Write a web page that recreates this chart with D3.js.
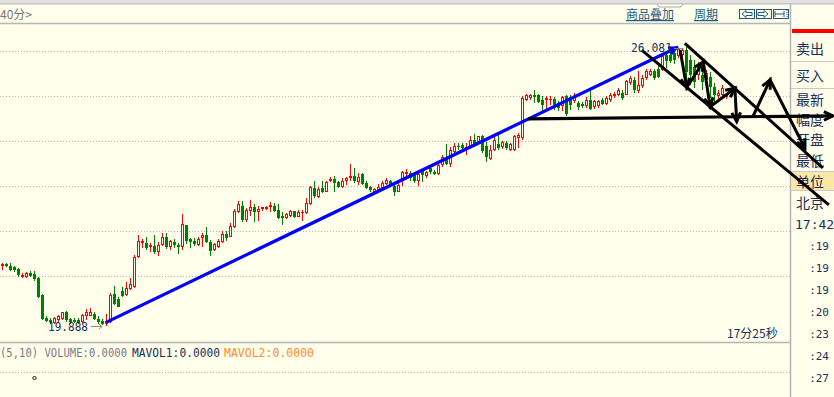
<!DOCTYPE html>
<html><head><meta charset="utf-8">
<script src="https://cdn.jsdelivr.net/npm/d3@7"></script>
<style>
body{margin:0;background:#ffffec;overflow:hidden}
svg{display:block}
text{font-family:"DejaVu Sans Mono",monospace}
.cn{font-family:"Noto Sans CJK SC",sans-serif}
</style></head><body>
<svg width="834" height="397"></svg>
<script>
var svg = d3.select("svg")

// 40 minute bars
var opens = [21.23,21.27,21.23,21.19,21.16,20.98,20.98,21.06,21.04,20.96,
 20.58,20.06,20.03,19.96,20.02,20.04,20.19,20.04,20.03,20.02,
 19.98,20.10,20.12,20.15,20.04,20.01,19.93,19.98,20.59,20.50,
 20.67,20.58,20.71,20.76,21.43,21.74,21.73,21.65,21.67,21.53,
 21.70,21.86,21.65,21.76,21.70,21.65,22.13,21.82,21.78,21.69,
 21.84,21.91,21.75,21.58,21.65,21.76,21.93,21.87,22.08,22.43,
 22.56,22.24,22.45,22.53,22.43,22.48,22.49,22.54,22.56,22.47,
 22.34,22.28,22.34,22.44,22.32,22.42,22.39,22.59,22.95,22.76,
 22.96,22.87,23.10,23.16,23.08,22.98,23.12,23.17,23.22,23.08,
 23.27,23.06,22.98,22.87,22.91,22.95,23.04,23.11,23.01,22.87,
 23.11,23.26,23.28,23.24,23.10,23.36,23.23,23.39,23.32,23.26,
 23.47,23.63,23.50,23.75,23.90,23.91,23.82,23.87,24.02,23.98,
 24.11,23.89,23.61,23.81,23.93,23.86,23.96,23.81,23.81,24.07,
 24.07,24.92,24.96,25.03,25.03,24.92,24.92,24.92,24.94,24.84,
 24.77,24.99,24.97,24.88,24.84,24.82,24.77,24.92,24.75,24.77,
 24.92,24.82,24.92,24.99,25.02,25.07,25.03,25.29,25.36,25.10,
 25.22,25.40,25.46,25.55,25.59,25.58,25.92,25.91,25.96,25.88,
 25.91,26.02,25.80,25.65,25.47,25.47,25.36,25.43,25.21,25.00,
 25.02,24.98]
var highs = [21.29,21.29,21.28,21.22,21.18,21.06,21.09,21.11,21.12,20.98,
 20.60,20.10,20.06,20.09,20.13,20.21,20.22,20.07,20.07,20.06,
 20.16,20.27,20.28,20.19,20.10,20.04,20.15,20.62,20.78,20.54,
 20.76,20.86,20.95,21.47,21.91,21.82,21.87,21.73,21.91,21.76,
 21.95,21.95,21.80,21.82,21.73,22.38,22.13,21.84,21.84,21.87,
 21.96,22.08,21.80,21.73,21.82,22.00,22.00,22.17,22.48,22.67,
 22.67,22.50,22.70,22.60,22.55,22.54,22.56,22.64,22.62,22.59,
 22.42,22.41,22.47,22.45,22.47,22.47,22.74,23.01,23.10,22.98,
 23.10,23.12,23.21,23.22,23.12,23.17,23.21,23.50,23.41,23.28,
 23.28,23.10,23.01,22.96,23.04,23.10,23.18,23.13,23.04,23.13,
 23.33,23.38,23.33,23.30,23.33,23.38,23.33,23.43,23.35,23.50,
 23.69,23.93,23.87,23.95,23.95,23.96,23.95,24.10,24.16,24.12,
 24.13,23.98,23.92,24.10,24.20,24.01,23.99,23.96,24.14,24.18,
 24.99,25.04,25.04,25.14,25.04,24.99,24.99,24.99,24.97,24.88,
 24.99,25.03,25.02,25.07,24.88,24.87,24.97,25.10,24.92,24.92,
 24.96,24.99,25.07,25.09,25.18,25.13,25.36,25.44,25.42,25.55,
 25.46,25.59,25.59,25.59,25.66,25.92,25.99,26.01,25.99,26.06,
 26.05,26.081,25.91,25.80,25.76,25.58,25.58,25.54,25.29,25.13,
 25.24,25.07]
var lows = [21.13,21.20,21.11,21.09,20.98,20.96,20.96,20.97,20.89,20.51,
 20.02,19.97,19.94,19.93,19.98,20.02,19.98,19.94,19.96,19.93,
 19.96,20.02,20.10,20.02,19.93,19.91,19.888,19.96,20.36,20.30,
 20.54,20.56,20.69,20.74,21.41,21.63,21.58,21.54,21.49,21.45,
 21.67,21.60,21.58,21.63,21.50,21.58,21.71,21.62,21.67,21.67,
 21.64,21.73,21.44,21.56,21.63,21.74,21.78,21.86,22.06,22.39,
 22.21,22.21,22.33,22.19,22.22,22.45,22.46,22.43,22.43,22.27,
 22.13,22.27,22.32,22.28,22.30,22.22,22.38,22.58,22.73,22.74,
 22.84,22.86,23.08,22.87,22.96,22.96,23.02,23.10,23.06,23.02,
 23.02,22.93,22.87,22.86,22.89,22.93,23.02,22.98,22.78,22.86,
 23.01,23.23,23.10,23.06,23.01,23.08,23.18,23.26,23.24,23.24,
 23.43,23.47,23.43,23.73,23.80,23.75,23.69,23.84,23.87,23.95,
 23.73,23.53,23.58,23.77,23.81,23.83,23.81,23.78,23.78,23.84,
 24.03,24.90,24.92,24.84,24.84,24.66,24.70,24.81,24.70,24.66,
 24.67,24.55,24.70,24.84,24.70,24.73,24.73,24.70,24.72,24.73,
 24.81,24.81,24.87,24.96,24.99,24.91,25.02,25.25,25.07,25.07,
 25.18,25.36,25.44,25.36,25.39,25.55,25.62,25.73,25.71,25.84,
 25.87,25.36,25.24,25.18,25.36,25.13,25.24,24.96,24.87,24.91,
 24.96,24.93]
var closes = [21.27,21.22,21.14,21.14,21.03,21.02,21.06,21.00,20.93,20.53,
 20.04,20.00,19.97,20.07,20.10,20.19,20.02,19.98,19.98,19.95,
 20.13,20.19,20.19,20.04,19.97,19.93,20.01,20.58,20.38,20.32,
 20.56,20.74,20.82,21.43,21.78,21.78,21.62,21.69,21.54,21.70,
 21.87,21.65,21.78,21.69,21.65,22.16,21.78,21.76,21.71,21.82,
 21.91,21.76,21.56,21.71,21.78,21.93,21.84,22.11,22.44,22.60,
 22.24,22.47,22.53,22.43,22.49,22.53,22.54,22.58,22.45,22.28,
 22.28,22.38,22.45,22.32,22.43,22.43,22.62,22.98,22.78,22.93,
 22.87,23.09,23.16,23.06,22.98,23.11,23.18,23.22,23.10,23.19,
 23.04,22.96,22.91,22.93,22.98,23.07,23.13,23.01,22.87,23.02,
 23.30,23.32,23.17,23.10,23.26,23.24,23.30,23.32,23.27,23.47,
 23.65,23.50,23.80,23.90,23.87,23.85,23.87,24.02,23.91,24.10,
 23.78,23.64,23.81,24.03,23.84,23.98,23.84,23.93,24.10,24.14,
 24.96,25.02,25.03,24.98,24.87,24.81,24.96,24.94,24.81,24.73,
 24.97,24.60,24.81,24.97,24.75,24.77,24.92,24.72,24.88,24.90,
 24.82,24.96,25.03,25.04,25.14,24.96,25.34,25.40,25.14,25.25,
 25.40,25.55,25.55,25.40,25.42,25.88,25.77,25.78,25.81,26.04,
 26.02,25.53,25.47,25.32,25.64,25.31,25.51,25.21,25.02,25.07,
 25.18,25.02]

var gridPrices = [26,25,24,23,22,21]
var maxLabel = "26.081", minLabel = "19.888"

// hand drawn lines, as [bar index, price]
var blueTrend = [[25.9,19.97],[168.9,26.09]]
var flatLine = [[131.4,24.49],[207.6,24.56]]
var channelA = [[159.8,26.02],[206.6,22.58]]
var channelB = [[170.6,26.17],[205.1,23.40]]
var zigzag1 = [[169.4,26.02],[171.05,25.19],[175.2,25.76],[176.9,24.76],[183.1,25.17],[183.55,24.43]]
var zigzag2 = [[187.6,24.54],[191.9,25.36],[200.6,23.84]]

var sideLabels = ["卖出","买入","最新","幅度","开盘","最低","单位","北京"]
var sideBase = [54,81,105,125,145,166,187,208]
var tickTimes = [":19",":19",":19",":20",":23",":24",":27"]
var volParts = ["(5,10) VOLUME:0.0000","MAVOL1:0.0000","MAVOL2:0.0000"]

var x = d3.scaleLinear().domain([0,181]).range([2.5,726.5])
var y = d3.scaleLinear().domain([20,26]).range([321,51])

// top strip + header
svg.append("rect").attr("width",834).attr("height",3).attr("fill","#e2e2e2")
svg.append("rect").attr("y",3).attr("width",834).attr("height",1.5).attr("fill","#c6c6c6")
svg.append("path").attr("d","M657,4 L659,7 L681,7 L683,4").attr("fill","none").attr("stroke","#aaa")
svg.append("line").attr("x1",0).attr("x2",790).attr("y1",23.5).attr("y2",23.5).attr("stroke","#b5b5b5").attr("stroke-width",1.5)
svg.append("text").attr("class","cn").attr("x",0).attr("y",19).attr("font-size",12).attr("fill","#777").text("40分>")

svg.append("text").attr("class","cn").attr("x",626).attr("y",19).attr("font-size",12).attr("fill","#1e5a82")
  .attr("text-decoration","underline").text("商品叠加")
svg.append("text").attr("class","cn").attr("x",694).attr("y",19).attr("font-size",12).attr("fill","#1e5a82")
  .attr("text-decoration","underline").text("周期")

var icons = svg.append("g").attr("fill","none").attr("stroke","#1e5a82")
;[739.5,756.5,773.5].forEach(function(ix){
  icons.append("rect").attr("x",ix).attr("y",9.5).attr("width",15).attr("height",9)
})
icons.append("path").attr("d","M742,14 L746,10.5 L746,12.5 L752,12.5 L752,15.5 L746,15.5 L746,17.5 Z")
icons.append("path").attr("d","M768,14 L764,10.5 L764,12.5 L758,12.5 L758,15.5 L764,15.5 L764,17.5 Z")
icons.append("path").attr("d","M775,14 L784,14 M775,11 L775,17 M784,11 L784,17")
icons.append("line").attr("x1",787).attr("x2",787).attr("y1",10).attr("y2",18).attr("stroke-dasharray","1,1")

// grid
var grid = svg.append("g").attr("stroke","#b9b9b9").attr("stroke-dasharray","1,2")
gridPrices.forEach(function(p){
  var gy = Math.round(y(p))+0.5
  grid.append("line").attr("x1",0).attr("x2",790).attr("y1",gy).attr("y2",gy)
})
grid.append("line").attr("x1",0).attr("x2",790).attr("y1",372.5).attr("y2",372.5)

// candles
var candles = svg.append("g")
opens.forEach(function(o,i){
  var c = closes[i], cx = x(i)
  var top = Math.round(y(Math.max(o,c))), bot = Math.round(y(Math.min(o,c)))
  var hi = Math.round(y(highs[i])), lo = Math.round(y(lows[i]))
  if (c >= o) {
    if (bot - top < 2) {
      candles.append("line").attr("x1",cx).attr("x2",cx).attr("y1",hi).attr("y2",lo).attr("stroke","#ff0000")
      candles.append("rect").attr("x",cx-1.5).attr("y",top).attr("width",3).attr("height",1).attr("fill","#ff0000")
      return
    }
    candles.append("line").attr("x1",cx).attr("x2",cx).attr("y1",hi).attr("y2",top).attr("stroke","#ff0000")
    candles.append("line").attr("x1",cx).attr("x2",cx).attr("y1",bot).attr("y2",lo).attr("stroke","#ff0000")
    candles.append("rect").attr("x",cx-1).attr("y",top+0.5).attr("width",2).attr("height",bot-top-1)
      .attr("fill","#ffffec").attr("stroke","#ff0000")
  } else {
    if (bot - top < 1) bot = top + 1
    candles.append("line").attr("x1",cx).attr("x2",cx).attr("y1",hi).attr("y2",lo).attr("stroke","#008000")
    candles.append("rect").attr("x",cx-1.5).attr("y",top).attr("width",3).attr("height",bot-top).attr("fill","#008000")
  }
})

// min label
svg.append("text").attr("x",48).attr("y",331).attr("font-size",13).attr("fill","#1a2f5a")
  .attr("textLength",40).attr("lengthAdjust","spacingAndGlyphs").text(minLabel)
svg.append("path").attr("d","M91,326.5 L102,326.5 M99,324 L102,326.5 L99,329").attr("stroke","#888").attr("fill","none")

svg.append("text").attr("class","cn").attr("x",727).attr("y",338).attr("font-size",12).attr("fill","#1a2f5a").text("17分25秒")

// volume header, one text with coloured parts
svg.append("line").attr("x1",0).attr("x2",790).attr("y1",342.5).attr("y2",342.5).attr("stroke","#b5b5b5").attr("stroke-width",1.5)
var volX = [0,132,224], volW = [127,88,90], volC = ["#7a7a8a","#1a2f5a","#ff8c2a"]
var vt = svg.append("text").attr("y",356.5).attr("font-size",11.5)
volParts.forEach(function(t,k){
  vt.append("tspan").attr("x",volX[k]).attr("fill",volC[k])
    .attr("textLength",volW[k]).attr("lengthAdjust","spacingAndGlyphs").text(t)
})
svg.append("path").attr("d","M34.5,376 L36.5,378 L34.5,380 L32.5,378 Z").attr("fill","none").attr("stroke","#000")

// right panel
svg.append("line").attr("x1",790.5).attr("x2",790.5).attr("y1",4).attr("y2",397).attr("stroke","#b5b5b5").attr("stroke-width",1.5)
svg.append("rect").attr("x",792).attr("y",29).attr("width",42).attr("height",4).attr("fill","#ff0000")
svg.append("rect").attr("x",791).attr("y",172).attr("width",43).attr("height",18).attr("fill","#fce8a6")
;[61.5,88.5,171.5,190.5].forEach(function(ly){
  svg.append("line").attr("x1",791).attr("x2",834).attr("y1",ly).attr("y2",ly).attr("stroke","#c8c8c8")
})
sideLabels.forEach(function(t,k){
  svg.append("text").attr("class","cn").attr("x",796).attr("y",sideBase[k]).attr("font-size",14).attr("fill","#1a2f5a").text(t)
})
svg.append("text").attr("x",795).attr("y",229).attr("font-size",13).attr("fill","#1a2f5a").text("17:42")
tickTimes.forEach(function(t,k){
  svg.append("text").attr("x",829).attr("y",250+22*k).attr("text-anchor","end").attr("font-size",11).attr("fill","#1a2f5a").text(t)
})

// hand drawn lines
var line = d3.line().x(function(d){return x(d[0])}).y(function(d){return y(d[1])})

function arrowHead(g, a, b, len, color, filled) {
  var x1 = x(a[0]), y1 = y(a[1]), x2 = x(b[0]), y2 = y(b[1])
  var ang = Math.atan2(y2-y1, x2-x1), w = 0.45
  var p1 = [x2 - len*Math.cos(ang-w), y2 - len*Math.sin(ang-w)]
  var p2 = [x2 - len*Math.cos(ang+w), y2 - len*Math.sin(ang+w)]
  g.append("path").attr("d","M"+p1+" L"+x2+","+y2+" L"+p2+(filled?" Z":""))
    .attr("fill",filled?color:"none").attr("stroke",color).attr("stroke-width",filled?1:3).attr("stroke-linejoin","miter")
}

var draw = svg.append("g").attr("fill","none")
draw.append("path").attr("d",line(blueTrend)).attr("stroke","#0000ff").attr("stroke-width",3.2)
arrowHead(draw, blueTrend[0], blueTrend[1], 10, "#0000ff", true)

draw.append("path").attr("d",line(flatLine)).attr("stroke","#000").attr("stroke-width",3.2)
arrowHead(draw, flatLine[0], flatLine[1], 10, "#000", false)
draw.append("path").attr("d",line(channelA)).attr("stroke","#000").attr("stroke-width",3)
draw.append("path").attr("d",line(channelB)).attr("stroke","#000").attr("stroke-width",3)

;[zigzag1, zigzag2].forEach(function(z){
  draw.append("path").attr("d",line(z)).attr("stroke","#000").attr("stroke-width",3)
  for (var k = 1; k < z.length; k++) arrowHead(draw, z[k-1], z[k], 10, "#000", false)
})

// max label sits above the drawings
var iMax = highs.indexOf(d3.max(highs))
svg.append("text").attr("x",631).attr("y",52).attr("font-size",13).attr("fill","#1a2f5a")
  .attr("textLength",41).attr("lengthAdjust","spacingAndGlyphs").text(maxLabel)
svg.append("path").attr("d","M674,"+(Math.round(y(highs[iMax]))+1.5)+" L"+(x(iMax)-3)+","+(Math.round(y(highs[iMax]))+1.5))
  .attr("stroke","#888").attr("fill","none")
</script></body></html>
